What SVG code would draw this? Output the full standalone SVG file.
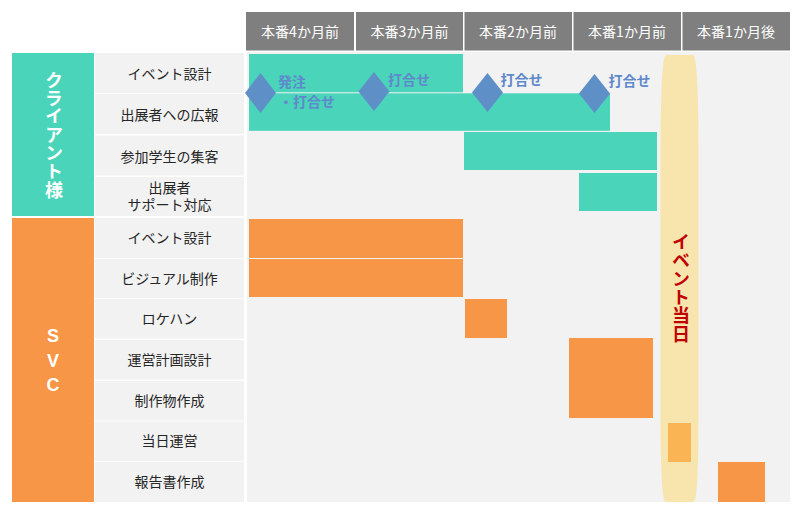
<svg xmlns="http://www.w3.org/2000/svg" width="804" height="515" viewBox="0 0 804 515">
<style>
.hdr{fill:#7f7f7f}
.hdrt{fill:#ffffff;font-family:"Noto Sans CJK JP","Noto Sans",sans-serif;font-size:14px;text-anchor:middle;dominant-baseline:central}
.cell{fill:#f2f2f2}
.lbl{fill:#262626;font-family:"Noto Sans CJK JP","Noto Sans",sans-serif;font-size:14px;text-anchor:middle;dominant-baseline:central}
.grp{fill:#ffffff;font-family:"Noto Sans CJK JP","Noto Sans",sans-serif;font-size:18px;font-weight:bold;writing-mode:vertical-rl;text-orientation:upright}
.teal{fill:#4ad4ba}
.org{fill:#f79646}
.dia{fill:#5e8fc7}
.mtxt{fill:#5f89cb;font-family:"Noto Sans CJK JP","Noto Sans",sans-serif;font-size:14px;font-weight:bold}
.ev{fill:#c00000;font-family:"Noto Sans CJK JP","Noto Sans",sans-serif;font-size:18px;font-weight:bold;writing-mode:vertical-rl;text-orientation:upright}
</style>
<rect width="804" height="515" fill="#ffffff"/>
<g id="header">
<rect class="hdr" x="246" y="12" width="108" height="38.5"/>
<text class="hdrt" x="300" y="31">本番4か月前</text>
<rect class="hdr" x="356" y="12" width="107" height="38.5"/>
<text class="hdrt" x="409.5" y="31">本番3か月前</text>
<rect class="hdr" x="464.5" y="12" width="107.5" height="38.5"/>
<text class="hdrt" x="518" y="31">本番2か月前</text>
<rect class="hdr" x="573.5" y="12" width="107.5" height="38.5"/>
<text class="hdrt" x="627" y="31">本番1か月前</text>
<rect class="hdr" x="682.5" y="12" width="107.5" height="38.5"/>
<text class="hdrt" x="736" y="31">本番1か月後</text>
</g>
<g id="grid-bg">
<rect class="cell" x="247" y="52" width="543" height="450"/>
</g>
<g id="group-client">
<rect class="teal" x="12" y="53" width="82" height="163"/>
<text class="grp" x="54" y="71" style="letter-spacing:0.3px">クライアント様</text>
</g>
<g id="group-svc">
<rect class="org" x="12" y="218" width="82" height="284"/>
<text class="grp" x="53" y="326" style="font-family:'Liberation Sans','Noto Sans',sans-serif;letter-spacing:4.5px">SVC</text>
</g>
<g id="labels">
<rect class="cell" x="95" y="53" width="149" height="40"/><text class="lbl" x="169.5" y="73">イベント設計</text>
<rect class="cell" x="95" y="94" width="149" height="40"/><text class="lbl" x="169.5" y="113.5">出展者への広報</text>
<rect class="cell" x="95" y="135.5" width="149" height="40"/><text class="lbl" x="169.5" y="155.5">参加学生の集客</text>
<rect class="cell" x="95" y="177" width="149" height="39"/><text class="lbl" x="169.5" y="187">出展者</text><text class="lbl" x="169.5" y="204">サポート対応</text>
<rect class="cell" x="95" y="218" width="149" height="40"/><text class="lbl" x="169.5" y="237">イベント設計</text>
<rect class="cell" x="95" y="259" width="149" height="39"/><text class="lbl" x="169.5" y="277.5">ビジュアル制作</text>
<rect class="cell" x="95" y="299" width="149" height="39.5"/><text class="lbl" x="169.5" y="317.5">ロケハン</text>
<rect class="cell" x="95" y="340" width="149" height="39.5"/><text class="lbl" x="169.5" y="359">運営計画設計</text>
<rect class="cell" x="95" y="381" width="149" height="39.5"/><text class="lbl" x="169.5" y="400">制作物作成</text>
<rect class="cell" x="95" y="421.5" width="149" height="39.5"/><text class="lbl" x="169.5" y="440">当日運営</text>
<rect class="cell" x="95" y="462" width="149" height="40"/><text class="lbl" x="169.5" y="481">報告書作成</text>
</g>
<g id="event-day">
<path fill="#f8e5ad" d="M666,55 L693,55 Q698.5,55 698.5,160 L698.5,410 Q698.5,502 693.5,502 L665.5,502 Q660.5,502 660.5,410 L660.5,160 Q660.5,55 666,55 Z"/>
<text class="ev" x="681" y="233" style="letter-spacing:0.4px">イベント当日</text>
</g>
<g id="bars-client">
<rect class="teal" x="249" y="54" width="214" height="38.3"/>
<rect class="teal" x="249" y="93.3" width="361" height="37.5"/>
<rect class="teal" x="464" y="132" width="193" height="38"/>
<rect class="teal" x="579" y="173" width="78" height="38"/>
</g>
<g id="bars-svc">
<rect class="org" x="249" y="219" width="214" height="39"/>
<rect class="org" x="249" y="259" width="214" height="38"/>
<rect class="org" x="465" y="299" width="42" height="39"/>
<rect class="org" x="569" y="338" width="84" height="80"/>
<rect fill="#fbb454" x="668" y="423" width="23" height="39"/>
<rect class="org" x="718" y="462" width="47" height="40"/>
</g>
<g id="milestones">
<polygon class="dia" points="260.5,73 276,93 260.5,113 245,93"/>
<text class="mtxt" x="278" y="87">発注</text>
<text class="mtxt" x="279" y="107">・打合せ</text>
<polygon class="dia" points="374,72 389.5,91.5 374,111 358.5,91.5"/>
<text class="mtxt" x="388" y="85">打合せ</text>
<polygon class="dia" points="487.5,73 503,92.5 487.5,112 472,92.5"/>
<text class="mtxt" x="500.5" y="85">打合せ</text>
<polygon class="dia" points="594.5,74 610,93.5 594.5,113 579,93.5"/>
<text class="mtxt" x="608.5" y="86">打合せ</text>
</g>
</svg>
